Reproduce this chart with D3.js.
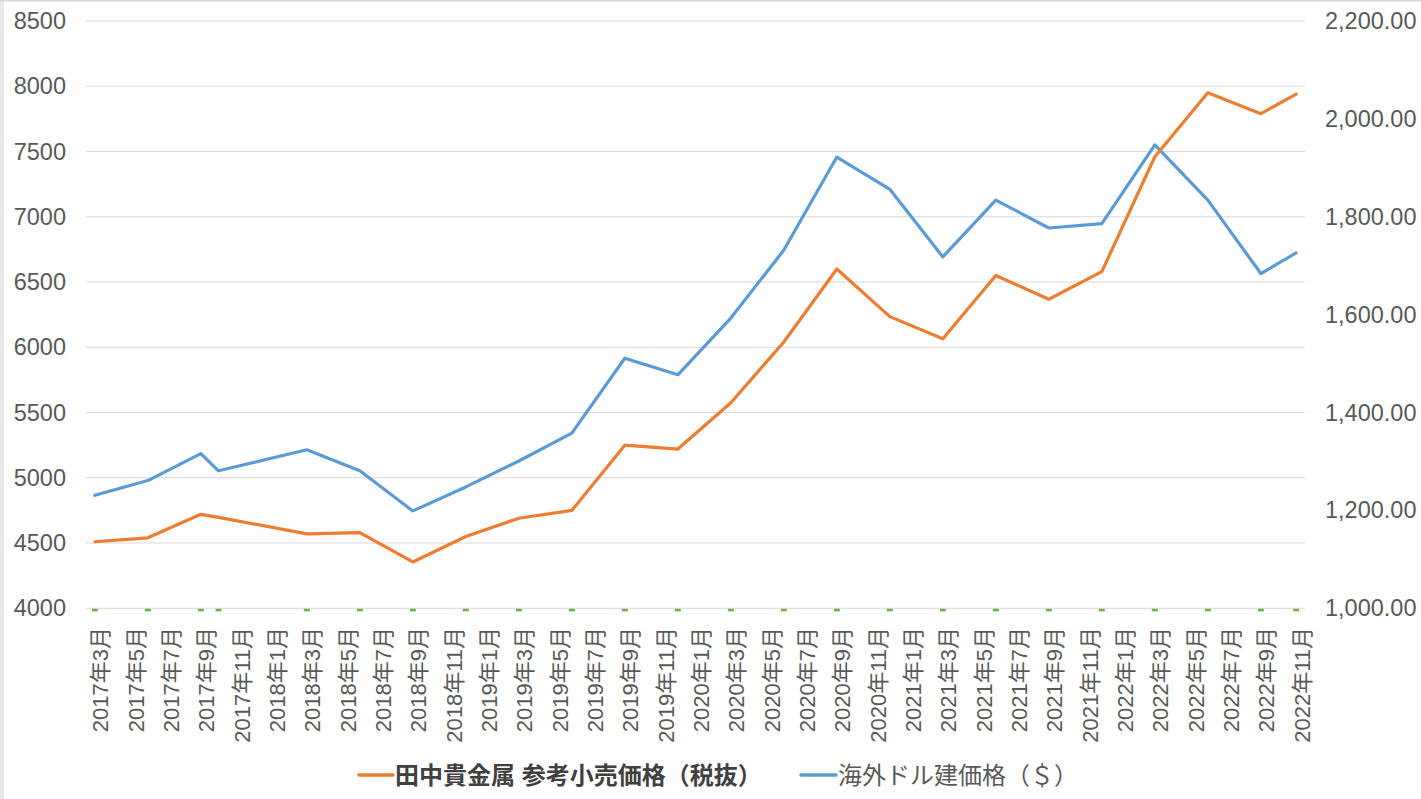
<!DOCTYPE html>
<html><head><meta charset="utf-8">
<script src="https://cdn.jsdelivr.net/npm/d3@7"></script>
<style>
html,body{margin:0;padding:0;background:#fff;}
svg{display:block;}
</style></head>
<body>
<svg id="chart" width="1421" height="799"></svg>
<script>
// ---- data ----
const dates = ["2017-03","2017-06","2017-09","2017-10","2018-03","2018-06","2018-09","2018-12",
  "2019-03","2019-06","2019-09","2019-12","2020-03","2020-06","2020-09","2020-12",
  "2021-03","2021-06","2021-09","2021-12","2022-03","2022-06","2022-09","2022-11"];
const tanakaPrice = [4510,4540,4720,4697,4570,4580,4355,4550,4690,4750,5250,5220,
  5575,6040,6600,6235,6065,6550,6368,6580,7460,7950,7790,7940];
const usdPrice = [1231,1261,1316,1281,1324,1281,1199,1248,1301,1358,1511,1477,
  1593,1732,1922,1856,1718,1834,1777,1786,1947,1834,1684,1726];
const leftTicks = [4000,4500,5000,5500,6000,6500,7000,7500,8000,8500];
const rightTicks = [1000,1200,1400,1600,1800,2000,2200];
const seriesNames = ["田中貴金属 参考小売価格（税抜）","海外ドル建価格（＄）"];
const colors = ["#ED7D31","#5B9BD5"];

// ---- month domain (axis structure) ----
const months = [];
for (let y = 2017, m = 3; y < 2022 || (y === 2022 && m <= 11); ) {
  months.push(y + "-" + String(m).padStart(2,"0"));
  m++; if (m > 12) { m = 1; y++; }
}
const labelMonths = months.filter((d,i) => i % 2 === 0);
const fmtLabel = k => { const [y,m] = k.split("-"); return y + "年" + (+m) + "月"; };

const svg = d3.select("#chart");
const font = "'Liberation Sans', Arial, 'Noto Sans CJK JP', sans-serif";
const textColor = "#595959";

// frame decorations
svg.append("rect").attr("x",0).attr("y",0).attr("width",1421).attr("height",799).attr("fill","#fff");
svg.append("rect").attr("x",0).attr("y",0).attr("width",4).attr("height",799).attr("fill","#e9e9e9");
svg.append("rect").attr("x",0).attr("y",0).attr("width",1421).attr("height",1.5).attr("fill","#d9d9d9");

const plotL = 86, plotR = 1305, plotT = 21, plotB = 608.3;
const x = d3.scaleBand().domain(months).range([plotL, plotR]).padding(0);
const xc = k => x(k) + x.bandwidth()/2;
const yL = d3.scaleLinear().domain([4000,8500]).range([plotB, plotT]);
const yR = d3.scaleLinear().domain([1000,2200]).range([plotB, plotT]);

// gridlines
svg.append("g").selectAll("line").data(leftTicks).join("line")
  .attr("x1", plotL).attr("x2", plotR)
  .attr("y1", d => yL(d)).attr("y2", d => yL(d))
  .attr("stroke", "#d9d9d9").attr("stroke-width", 1);

// left axis labels
svg.append("g").selectAll("text").data(leftTicks).join("text")
  .attr("x", 66).attr("y", d => yL(d))
  .attr("text-anchor","end").attr("dominant-baseline","central")
  .attr("font-family", font).attr("font-size", 23.5).attr("fill", textColor)
  .text(d => d);

// right axis labels
const fmtR = d3.format(",.2f");
svg.append("g").selectAll("text").data(rightTicks).join("text")
  .attr("x", 1325).attr("y", d => yR(d))
  .attr("text-anchor","start").attr("dominant-baseline","central")
  .attr("font-family", font).attr("font-size", 23.5).attr("fill", textColor)
  .text(d => fmtR(d));

// x labels
svg.append("g").selectAll("text").data(labelMonths).join("text")
  .attr("transform", d => `translate(${xc(d)+6},627) rotate(-90)`)
  .attr("text-anchor","end").attr("dominant-baseline","central")
  .attr("font-family", font).attr("font-size", 22).attr("fill", textColor)
  .text(fmtLabel);

// small green date markers on baseline
svg.append("g").selectAll("rect").data(dates).join("rect")
  .attr("x", d => xc(d) - 3).attr("y", plotB + 0.5)
  .attr("width", 6).attr("height", 2.5).attr("fill", "#70AD47");

// lines
const lineL = d3.line().x((d,i) => xc(dates[i])).y(d => yL(d));
const lineR = d3.line().x((d,i) => xc(dates[i])).y(d => yR(d));
svg.append("path").datum(usdPrice).attr("d", lineR)
  .attr("fill","none").attr("stroke", colors[1]).attr("stroke-width", 3.2)
  .attr("stroke-linejoin","round").attr("stroke-linecap","round");
svg.append("path").datum(tanakaPrice).attr("d", lineL)
  .attr("fill","none").attr("stroke", colors[0]).attr("stroke-width", 3.2)
  .attr("stroke-linejoin","round").attr("stroke-linecap","round");

// legend
const legendY = 775;
const lg = svg.append("g");
const items = [
  {name: seriesNames[0], color: colors[0], x1: 359, x2: 393, tx: 395, bold: true},
  {name: seriesNames[1], color: colors[1], x1: 801, x2: 836, tx: 838, bold: false}
];
items.forEach(it => {
  lg.append("line").attr("x1", it.x1).attr("x2", it.x2).attr("y1", legendY).attr("y2", legendY)
    .attr("stroke", it.color).attr("stroke-width", 3.5).attr("stroke-linecap","round");
  lg.append("text").attr("x", it.tx).attr("y", legendY)
    .attr("dominant-baseline","central")
    .attr("font-family", font).attr("font-size", 24)
    .attr("font-weight", it.bold ? "bold" : "normal")
    .attr("fill", it.bold ? "#404040" : textColor)
    .text(it.name);
});
</script>
</body></html>
